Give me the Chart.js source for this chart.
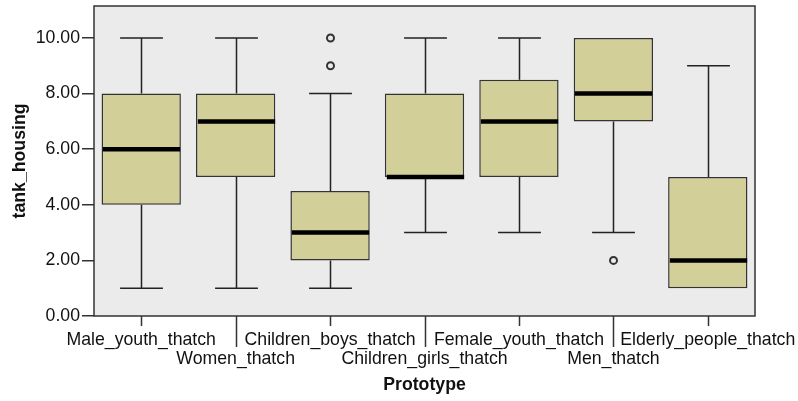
<!DOCTYPE html>
<html>
<head>
<meta charset="utf-8">
<script src="https://cdn.jsdelivr.net/npm/chart.js@4/dist/chart.umd.min.js"></script>
<style>
  html, body { margin: 0; padding: 0; background: #ffffff; }
  #wrap { width: 798px; height: 401px; }
</style>
</head>
<body>
<div id="wrap"><canvas id="boxChart"></canvas></div>
<script>
// box plot values
const categories = ['Male_youth_thatch', 'Women_thatch', 'Children_boys_thatch', 'Children_girls_thatch',
                    'Female_youth_thatch', 'Men_thatch', 'Elderly_people_thatch'];
const whiskerLow  = [1, 1, 1, 3, 3, 3, 1];
const quartile1   = [4, 5, 2, 5, 5, 7, 1];
const medians     = [6, 7, 3, 5, 7, 8, 2];
const quartile3   = [8, 8, 4.5, 8, 8.5, 10, 5];
const whiskerHigh = [10, 10, 8, 10, 10, 10, 9];
const outliers    = [[], [], [9, 10], [], [], [2], []];
const yTicks      = [0, 2, 4, 6, 8, 10];

const FONT = 'Arial, "Liberation Sans", sans-serif';

// staggered labels: odd ones go on the second row
const tickLabels = categories.map((c, i) => i % 2 ? ['', c] : [c]);

const boxPlugin = {
  id: 'boxPlugin',
  beforeDraw(chart) {
    const { ctx, chartArea: a } = chart;
    ctx.save();
    ctx.fillStyle = '#ebebeb';
    ctx.fillRect(a.left, a.top, a.right - a.left, a.bottom - a.top);
    ctx.restore();
  },
  afterDatasetsDraw(chart) {
    const { ctx, chartArea: a } = chart;
    const xs = chart.scales.x, ys = chart.scales.y;
    const bars = chart.getDatasetMeta(0).data;
    ctx.save();
    ctx.strokeStyle = '#222';
    ctx.lineWidth = 1.5;
    categories.forEach((c, i) => {
      const x = Math.round(xs.getPixelForValue(i)) + 0.5;
      const w = bars[i].width;
      const cap = w * 0.27;
      ctx.beginPath();
      ctx.moveTo(x, ys.getPixelForValue(quartile3[i]));
      ctx.lineTo(x, ys.getPixelForValue(whiskerHigh[i]));
      ctx.moveTo(x, ys.getPixelForValue(quartile1[i]));
      ctx.lineTo(x, ys.getPixelForValue(whiskerLow[i]));
      if (whiskerHigh[i] > quartile3[i]) {
        ctx.moveTo(x - cap, ys.getPixelForValue(whiskerHigh[i]));
        ctx.lineTo(x + cap, ys.getPixelForValue(whiskerHigh[i]));
      }
      if (whiskerLow[i] < quartile1[i]) {
        ctx.moveTo(x - cap, ys.getPixelForValue(whiskerLow[i]));
        ctx.lineTo(x + cap, ys.getPixelForValue(whiskerLow[i]));
      }
      ctx.stroke();

      // median
      ctx.save();
      ctx.strokeStyle = '#000';
      ctx.lineWidth = 4.5;
      ctx.beginPath();
      ctx.moveTo(x - w / 2 + 1, ys.getPixelForValue(medians[i]));
      ctx.lineTo(x + w / 2 - 1, ys.getPixelForValue(medians[i]));
      ctx.stroke();
      ctx.restore();

      // outliers
      outliers[i].forEach(v => {
        ctx.save();
        ctx.lineWidth = 2;
        ctx.strokeStyle = '#333';
        ctx.fillStyle = '#ebebeb';
        ctx.beginPath();
        ctx.arc(x, ys.getPixelForValue(v), 3.5, 0, Math.PI * 2);
        ctx.fill();
        ctx.stroke();
        ctx.restore();
      });
    });

    // frame
    ctx.strokeStyle = '#333';
    ctx.lineWidth = 1.5;
    ctx.strokeRect(a.left, a.top, a.right - a.left, a.bottom - a.top);

    // x ticks, long ones for the second label row
    categories.forEach((c, i) => {
      const x = Math.round(xs.getPixelForValue(i)) + 0.5;
      ctx.beginPath();
      ctx.moveTo(x, a.bottom);
      ctx.lineTo(x, a.bottom + (i % 2 ? 31 : 10));
      ctx.stroke();
    });
    ctx.restore();
  }
};

new Chart(document.getElementById('boxChart'), {
  type: 'bar',
  data: {
    labels: tickLabels,
    datasets: [{
      data: categories.map((c, i) => [quartile1[i], quartile3[i]]),
      backgroundColor: '#d3cf98',
      borderColor: '#333',
      borderWidth: 1.5,
      borderSkipped: false,
      barPercentage: 0.84,
      categoryPercentage: 1
    }]
  },
  options: {
    responsive: true,
    maintainAspectRatio: false,
    animation: false,
    layout: { padding: { top: 6, right: 43, left: 0, bottom: 0 } },
    plugins: { legend: { display: false }, tooltip: { enabled: false } },
    scales: {
      x: {
        grid: { display: false },
        border: { display: false },
        ticks: {
          autoSkip: false, maxRotation: 0, minRotation: 0, padding: 6,
          color: '#111', font: { family: FONT, size: 17.7, lineHeight: 1.1 }
        },
        title: {
          display: true, text: 'Prototype', color: '#111',
          font: { family: FONT, size: 17.7, weight: 'bold', lineHeight: 1.15 },
          padding: { top: 0, bottom: 6 }
        },
        afterFit(scale) {
          scale.height = 85;
          scale.paddingLeft = 0;
          scale.paddingRight = 0;
        }
      },
      y: {
        min: 0, max: 11.15,
        grid: { drawOnChartArea: false, tickLength: 12, color: '#333', lineWidth: 1.5 },
        border: { display: false },
        afterBuildTicks(scale) { scale.ticks = yTicks.map(v => ({ value: v })); },
        ticks: {
          padding: 2, color: '#111',
          font: { family: FONT, size: 17.7 },
          callback: v => v.toFixed(2)
        },
        title: {
          display: true, text: 'tank_housing', color: '#111',
          font: { family: FONT, size: 17.7, weight: 'bold', lineHeight: 1.15 },
          padding: { top: 10, bottom: 0 }
        },
        afterFit(scale) {
          scale.width = 94;
          scale.paddingTop = 0;
          scale.paddingBottom = 0;
        }
      }
    }
  },
  plugins: [boxPlugin]
});
</script>
</body>
</html>
